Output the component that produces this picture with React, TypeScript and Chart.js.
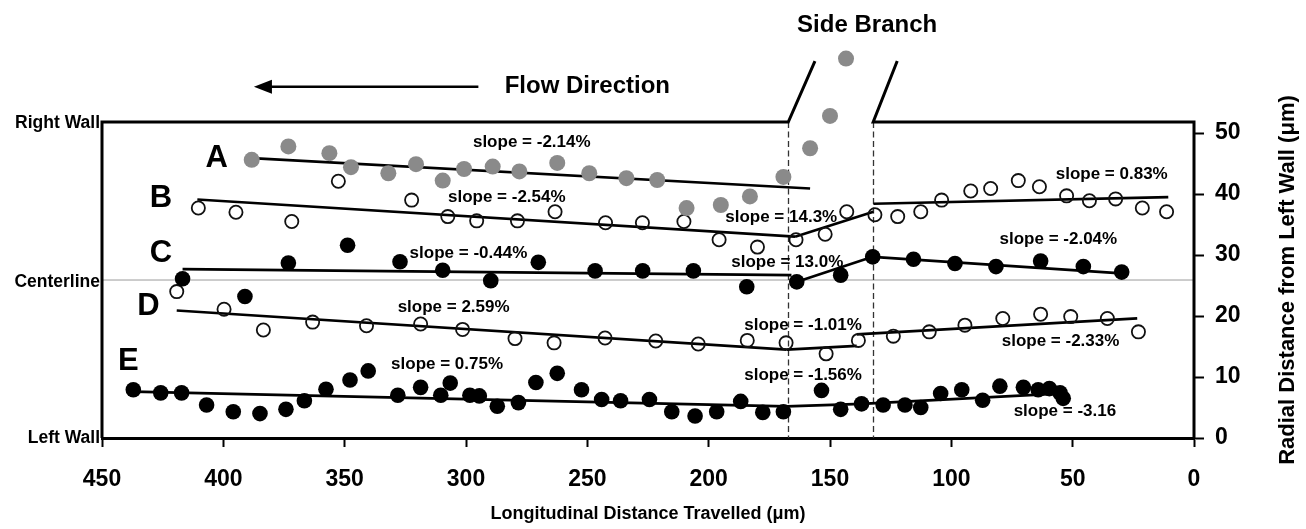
import React, { useEffect, useRef } from "react";
import { Chart, registerables } from "chart.js";

Chart.register(...registerables);

type P = [number, number];

// ---- data (x = longitudinal distance travelled, µm; y = radial distance from left wall, µm)
const seriesA: P[] = [
  [388.3, 45.6], [373.2, 47.8], [356.3, 46.7], [347.4, 44.4], [332.0, 43.4], [320.6, 44.9],
  [309.6, 42.2], [300.8, 44.1], [289.0, 44.5], [278.0, 43.7], [262.4, 45.1], [249.2, 43.4],
  [233.9, 42.6], [221.2, 42.3], [209.1, 37.7], [195.0, 38.2], [183.0, 39.6], [169.2, 42.8],
  [158.2, 47.5], [150.0, 52.8], [143.4, 62.2],
];
const seriesB: P[] = [
  [410.3, 37.7], [394.8, 37.0], [371.8, 35.5], [352.6, 42.1], [322.4, 39.0], [307.5, 36.3],
  [295.6, 35.6], [278.8, 35.6], [263.3, 37.1], [242.5, 35.3], [227.3, 35.3], [210.2, 35.5],
  [195.7, 32.5], [179.9, 31.3], [164.0, 32.5], [152.0, 33.4], [143.1, 37.1], [131.5, 36.6],
  [122.1, 36.3], [112.6, 37.1], [104.0, 39.0], [92.0, 40.5], [83.8, 40.9], [72.4, 42.2],
  [63.7, 41.2], [52.5, 39.7], [43.1, 38.9], [32.3, 39.2], [21.3, 37.7], [11.3, 37.1],
];
const seriesC: P[] = [
  [416.8, 26.1], [391.1, 23.2], [373.2, 28.7], [348.8, 31.6], [327.2, 28.9], [309.6, 27.5],
  [289.8, 25.8], [270.2, 28.8], [246.8, 27.4], [227.2, 27.4], [206.3, 27.4], [184.3, 24.8],
  [163.7, 25.6], [145.6, 26.7], [132.4, 29.7], [115.6, 29.3], [98.5, 28.6], [81.6, 28.1],
  [63.2, 29.0], [45.6, 28.1], [29.8, 27.2],
];
const seriesD: P[] = [
  [419.2, 24.0], [399.7, 21.1], [383.5, 17.7], [363.2, 19.0], [341.0, 18.4], [318.7, 18.7],
  [301.4, 17.8], [279.8, 16.3], [263.7, 15.6], [242.7, 16.4], [221.8, 15.9], [204.3, 15.4],
  [184.1, 16.0], [168.1, 15.6], [151.6, 13.8], [138.3, 16.0], [123.9, 16.7], [109.1, 17.4],
  [94.4, 18.5], [78.8, 19.6], [63.2, 20.3], [50.8, 19.9], [35.7, 19.6], [22.9, 17.4],
];
const seriesE: P[] = [
  [437.1, 7.9], [425.8, 7.4], [417.2, 7.4], [406.9, 5.4], [395.9, 4.3], [384.9, 4.0],
  [374.2, 4.7], [366.6, 6.1], [357.7, 8.0], [347.8, 9.5], [340.3, 11.0], [328.1, 7.0],
  [318.7, 8.3], [310.4, 7.0], [306.5, 9.0], [298.4, 7.0], [294.5, 6.9], [287.1, 5.2],
  [278.4, 5.8], [271.2, 9.1], [262.4, 10.6], [252.4, 7.9], [244.1, 6.3], [236.3, 6.1],
  [224.4, 6.3], [215.2, 4.3], [205.6, 3.6], [196.7, 4.3], [186.8, 6.0], [177.7, 4.2],
  [169.2, 4.3], [153.5, 7.8], [145.6, 4.7], [137.0, 5.6], [128.1, 5.4], [119.1, 5.4],
  [112.6, 5.0], [104.4, 7.3], [95.7, 7.9], [87.1, 6.2], [80.0, 8.5], [70.3, 8.3],
  [64.2, 7.9], [59.6, 8.1], [55.2, 7.4], [53.9, 6.5],
];

// fitted segments
const trendA: P[][] = [[[388.3, 45.9], [158.2, 40.9]]];
const trendB: P[][] = [
  [[410.7, 39.1], [164.4, 33.0]],
  [[164.4, 33.0], [132.1, 37.1]],
  [[132.1, 38.4], [10.6, 39.5]],
];
const trendC: P[][] = [
  [[416.8, 27.7], [165.9, 26.7]],
  [[164.5, 25.5], [132.4, 29.7]],
  [[132.4, 29.7], [29.8, 27.0]],
];
const trendD: P[][] = [
  [[419.2, 20.9], [167.9, 14.5]],
  [[167.9, 14.5], [139.0, 15.1]],
  [[139.0, 17.0], [23.4, 19.6]],
];
const trendE: P[][] = [
  [[437.1, 7.6], [167.9, 5.2]],
  [[167.9, 5.2], [137.0, 5.6]],
  [[137.0, 5.6], [53.9, 7.3]],
];

const slopeTexts: string[] = [
  "slope = -2.14%", "slope = -2.54%", "slope = 14.3%", "slope = -0.44%", "slope = 13.0%",
  "slope = 0.83%", "slope = -2.04%", "slope = 2.59%", "slope = 0.75%", "slope = -1.01%",
  "slope = -1.56%", "slope = -2.33%", "slope = -3.16",
];
const slopeAt: P[] = [
  [272.9, 48.4], [283.2, 39.5], [170.1, 36.2], [299.0, 30.2], [167.6, 28.8],
  [33.9, 43.3], [55.9, 32.6], [305.1, 21.5], [307.8, 12.0], [161.1, 18.5],
  [161.1, 10.2], [55.0, 15.8], [53.2, 4.3],
];
const curveLetters: string[] = ["A", "B", "C", "D", "E"];
const curveLetterAt: P[] = [[402.7, 45.9], [425.7, 39.3], [425.7, 30.2], [430.9, 21.5], [439.1, 12.6]];

const wallLabels: string[] = ["Right Wall", "Centerline", "Left Wall"];
const wallLabelY: number[] = [51.6, 25.6, 0];
const centerlineY = 25.9;
const WALL_Y = 51.8; // right wall position
const branchEdgesX: number[] = [167.2, 132.2];
const branchTopX: number[] = [156.2, 122.3];
const branchTopY = 61.8;
const flowArrowX: number[] = [294.9, 387.4];
const flowArrowY = 57.6;
const flowText: P = [250.0, 57.6];
const branchText: P = [134.7, 67.7];

const xTicks: number[] = [0, 50, 100, 150, 200, 250, 300, 350, 400, 450];
const yTicks: number[] = [0, 10, 20, 30, 40, 50];
const Y_MAX = 65.25;

const FONT = '"Liberation Sans", Arial, Helvetica, sans-serif';

const toXY = (pts: P[]) => pts.map(([x, y]) => ({ x, y }));

const annotationPlugin = {
  id: "annotations",
  beforeDatasetsDraw(chart: any) {
    const { ctx, chartArea: a, scales } = chart;
    const x = scales.x, y = scales.y;
    const wy = y.getPixelForValue(WALL_Y);
    ctx.save();
    const cy = y.getPixelForValue(centerlineY);
    ctx.strokeStyle = "#9a9a9a";
    ctx.lineWidth = 1;
    ctx.beginPath();
    ctx.moveTo(a.left, cy);
    ctx.lineTo(a.right, cy);
    ctx.stroke();
    ctx.setLineDash([6, 3.5]);
    ctx.strokeStyle = "#333";
    ctx.lineWidth = 1.3;
    for (const bx of branchEdgesX) {
      const px = Math.round(x.getPixelForValue(bx)) + 0.5;
      ctx.beginPath();
      ctx.moveTo(px, wy);
      ctx.lineTo(px, a.bottom);
      ctx.stroke();
    }
    ctx.restore();
  },
  afterDatasetsDraw(chart: any) {
    const { ctx, chartArea: a, scales } = chart;
    const x = scales.x, y = scales.y;
    const wy = y.getPixelForValue(WALL_Y);
    ctx.save();
    // frame: left wall, right wall with side branch, right axis line
    ctx.strokeStyle = "#000";
    ctx.lineWidth = 3;
    ctx.lineJoin = "miter";
    const xl = x.getPixelForValue(branchEdgesX[0]);
    const xr = x.getPixelForValue(branchEdgesX[1]);
    const ty = y.getPixelForValue(branchTopY);
    ctx.beginPath();
    ctx.moveTo(a.left, a.bottom);
    ctx.lineTo(a.left, wy);
    ctx.lineTo(xl, wy);
    ctx.lineTo(x.getPixelForValue(branchTopX[0]), ty);
    ctx.stroke();
    ctx.beginPath();
    ctx.moveTo(x.getPixelForValue(branchTopX[1]), ty);
    ctx.lineTo(xr, wy);
    ctx.lineTo(a.right, wy);
    ctx.lineTo(a.right, a.bottom);
    ctx.stroke();

    // flow arrow
    const ay = y.getPixelForValue(flowArrowY);
    const ax0 = x.getPixelForValue(flowArrowX[0]);
    const ax1 = x.getPixelForValue(flowArrowX[1]);
    ctx.lineWidth = 2.5;
    ctx.beginPath();
    ctx.moveTo(ax0, ay);
    ctx.lineTo(ax1 + 10, ay);
    ctx.stroke();
    ctx.fillStyle = "#000";
    ctx.beginPath();
    ctx.moveTo(ax1, ay);
    ctx.lineTo(ax1 + 18, ay - 7);
    ctx.lineTo(ax1 + 18, ay + 7);
    ctx.closePath();
    ctx.fill();

    ctx.fillStyle = "#000";
    ctx.textBaseline = "middle";
    ctx.textAlign = "center";
    ctx.font = `bold 24px ${FONT}`;
    ctx.fillText("Flow Direction", x.getPixelForValue(flowText[0]), y.getPixelForValue(flowText[1]));
    ctx.fillText("Side Branch", x.getPixelForValue(branchText[0]), y.getPixelForValue(branchText[1]));

    ctx.font = `bold 17px ${FONT}`;
    slopeTexts.forEach((t, i) => {
      ctx.fillText(t, x.getPixelForValue(slopeAt[i][0]), y.getPixelForValue(slopeAt[i][1]));
    });

    ctx.font = `bold 31px ${FONT}`;
    curveLetters.forEach((t, i) => {
      ctx.fillText(t, x.getPixelForValue(curveLetterAt[i][0]), y.getPixelForValue(curveLetterAt[i][1]));
    });

    ctx.textAlign = "right";
    ctx.font = `bold 17.5px ${FONT}`;
    wallLabels.forEach((t, i) => {
      ctx.fillText(t, a.left - 2, y.getPixelForValue(wallLabelY[i]));
    });

    // right axis title (reads bottom to top)
    ctx.save();
    ctx.translate(chart.width - 18, (wy + a.bottom) / 2);
    ctx.rotate(-Math.PI / 2);
    ctx.textAlign = "center";
    ctx.font = `bold 22px ${FONT}`;
    ctx.fillText("Radial Distance from Left Wall (\u03BCm)", 0, 0);
    ctx.restore();

    ctx.restore();
  },
};

export default function App() {
  const ref = useRef<HTMLCanvasElement | null>(null);
  useEffect(() => {
    document.body.style.margin = "0";
    if (!ref.current) return;
    const scatterBase = { showLine: false, pointBorderWidth: 0 };
    const lineSets: any[] = [];
    [trendA, trendB, trendC, trendD, trendE].forEach((segs) =>
      segs.forEach((seg) =>
        lineSets.push({
          data: toXY(seg),
          showLine: true,
          pointRadius: 0,
          borderColor: "#000",
          borderWidth: 2.7,
          fill: false,
        })
      )
    );
    const chart = new Chart(ref.current, {
      type: "scatter",
      data: {
        datasets: [
          { ...scatterBase, label: "A", data: toXY(seriesA), pointRadius: 8, pointBackgroundColor: "#8a8a8a" },
          { label: "B", data: toXY(seriesB), showLine: false, pointRadius: 6.6, pointBackgroundColor: "rgba(0,0,0,0)", pointBorderColor: "#111", pointBorderWidth: 1.8 },
          { ...scatterBase, label: "C", data: toXY(seriesC), pointRadius: 7.8, pointBackgroundColor: "#000" },
          { label: "D", data: toXY(seriesD), showLine: false, pointRadius: 6.6, pointBackgroundColor: "rgba(0,0,0,0)", pointBorderColor: "#111", pointBorderWidth: 1.8 },
          { ...scatterBase, label: "E", data: toXY(seriesE), pointRadius: 7.8, pointBackgroundColor: "#000" },
          ...lineSets,
        ],
      },
      options: {
        responsive: false,
        animation: false,
        devicePixelRatio: 1,
        events: [],
        layout: { padding: { left: 102, top: 40, right: 0, bottom: 0 } },
        plugins: { legend: { display: false }, tooltip: { enabled: false } },
        scales: {
          x: {
            type: "linear",
            position: "bottom",
            reverse: true,
            min: 0,
            max: 450,
            afterBuildTicks: (s: any) => { s.ticks = xTicks.map((v) => ({ value: v })); },
            afterFit: (s: any) => { s.height = 91; },
            ticks: { color: "#000", font: { family: FONT, size: 23, weight: "bold" }, padding: 19, maxRotation: 0 },
            grid: { drawOnChartArea: false, drawTicks: true, tickLength: 9, tickWidth: 2, tickColor: "#000" },
            border: { display: true, color: "#000", width: 3 },
            title: {
              display: true,
              text: "Longitudinal Distance Travelled (\u03BCm)",
              color: "#000",
              font: { family: FONT, size: 18, weight: "bold" },
              padding: { top: 0, bottom: 4.5 },
            },
          },
          y: {
            type: "linear",
            position: "right",
            min: 0,
            max: Y_MAX,
            afterBuildTicks: (s: any) => { s.ticks = yTicks.map((v) => ({ value: v })); },
            afterFit: (s: any) => { s.width = 112; },
            ticks: { color: "#000", font: { family: FONT, size: 23, weight: "bold" }, padding: 11 },
            grid: { drawOnChartArea: false, drawTicks: true, tickLength: 10, tickWidth: 2, tickColor: "#000" },
            border: { display: false },
          },
        },
      },
      plugins: [annotationPlugin],
    } as any);
    return () => chart.destroy();
  }, []);
  return (
    <div style={{ width: 1306, height: 529, background: "#fff" }}>
      <canvas ref={ref} width={1306} height={529} style={{ display: "block" }} />
    </div>
  );
}
